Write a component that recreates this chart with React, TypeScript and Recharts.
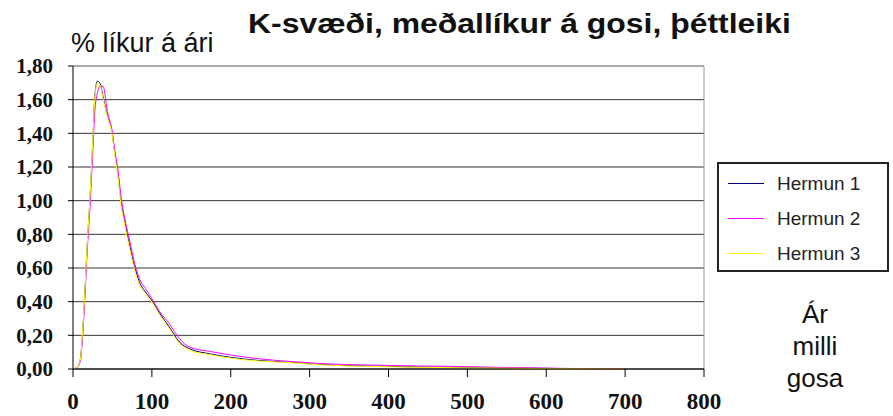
import React from 'react'
import { LineChart, Line, XAxis, YAxis, CartesianGrid, ReferenceLine } from 'recharts'

// ár milli gosa
const years = [0, 5, 9, 12, 15, 18, 22, 25, 28, 31, 34, 38, 44, 49, 53, 57, 61, 65, 72, 78, 84, 93, 101, 110, 122, 135, 148, 174, 199, 237, 275, 309, 351, 393, 436, 478, 520, 560, 600, 650, 700]
const hermun1 = [0, 0.01, 0.05, 0.2, 0.45, 0.73, 1.05, 1.34, 1.64, 1.71, 1.7, 1.62, 1.5, 1.42, 1.28, 1.16, 0.99, 0.89, 0.73, 0.61, 0.52, 0.45, 0.4, 0.33, 0.25, 0.16, 0.12, 0.09, 0.07, 0.05, 0.04, 0.028, 0.02, 0.016, 0.012, 0.01, 0.008, 0.006, 0.004, 0.001, 0]
const hermun2 = [0, 0.01, 0.04, 0.18, 0.42, 0.7, 1.0, 1.28, 1.55, 1.64, 1.68, 1.68, 1.52, 1.43, 1.3, 1.18, 1.02, 0.91, 0.76, 0.63, 0.54, 0.47, 0.41, 0.34, 0.27, 0.18, 0.13, 0.104, 0.084, 0.06, 0.045, 0.034, 0.026, 0.022, 0.018, 0.016, 0.012, 0.008, 0.005, 0.002, 0]
const hermun3 = [0, 0.01, 0.05, 0.21, 0.46, 0.74, 1.06, 1.35, 1.63, 1.7, 1.69, 1.61, 1.49, 1.41, 1.27, 1.14, 0.97, 0.87, 0.71, 0.59, 0.5, 0.44, 0.39, 0.32, 0.24, 0.15, 0.11, 0.085, 0.065, 0.047, 0.038, 0.026, 0.018, 0.014, 0.01, 0.008, 0.006, 0.004, 0.002, 0.001, 0]

const xTicks = [0, 100, 200, 300, 400, 500, 600, 700, 800]
const yTicks = [0, 0.2, 0.4, 0.6, 0.8, 1.0, 1.2, 1.4, 1.6, 1.8]

const series = [
  { key: 'h1', name: 'Hermun 1', color: '#000080' },
  { key: 'h2', name: 'Hermun 2', color: '#ff00ff' },
  { key: 'h3', name: 'Hermun 3', color: '#ffff00' },
]

const data = years.map((x, i) => ({ x, h1: hermun1[i], h2: hermun2[i], h3: hermun3[i] }))

const sans = '"Liberation Sans", Arial, sans-serif'
const serif = '"Liberation Serif", "Times New Roman", serif'

const fmt = (v: number) => v.toFixed(2).replace('.', ',')

function LegendBox() {
  return (
    <div style={{ position: 'absolute', left: 717, top: 162, border: '2px solid #222', width: 172, height: 110, boxSizing: 'border-box', padding: '2px 0 0 9px', background: '#fff' }}>
      {series.map(s => (
        <div key={s.key} style={{ display: 'flex', alignItems: 'center', height: 35 }}>
          <div style={{ width: 36, height: 0, borderTop: `1px solid ${s.color}`, marginRight: 13 }} />
          <span style={{ fontFamily: sans, fontSize: 19, color: '#222' }}>{s.name}</span>
        </div>
      ))}
    </div>
  )
}

export default function App() {
  return (
    <div style={{ position: 'absolute', left: 0, top: 0, width: 893, height: 416, background: '#fff' }}>
      <div style={{ position: 'absolute', left: 248, top: 8, fontFamily: sans, fontWeight: 'bold', fontSize: 28, color: '#111', whiteSpace: 'nowrap', transform: 'scaleX(1.14)', transformOrigin: 'left top' }}>
        K-svæði, meðallíkur á gosi, þéttleiki
      </div>
      <div style={{ position: 'absolute', left: 71, top: 28, fontFamily: sans, fontSize: 27, color: '#111', whiteSpace: 'nowrap' }}>
        % líkur á ári
      </div>
      <div style={{ position: 'absolute', left: 775, top: 298, width: 80, textAlign: 'center', fontFamily: sans, fontSize: 26, lineHeight: '32px', color: '#111' }}>
        Ár<br />milli<br />gosa
      </div>
      <LineChart width={893} height={416} data={data} margin={{ top: 66, right: 189, bottom: 0, left: 0 }}>
        <CartesianGrid horizontal vertical={false} stroke="#333" strokeWidth={1} />
        <ReferenceLine x={800} stroke="#999" />
        <ReferenceLine y={1.8} stroke="#bbb" />
        <XAxis
          dataKey="x"
          type="number"
          domain={[0, 800]}
          ticks={xTicks}
          interval={0}
          height={47}
          tickSize={8}
          tickMargin={16}
          stroke="#000"
          tick={{ fontFamily: serif, fontWeight: 'bold', fontSize: 23, fill: '#111' }}
        />
        <YAxis
          type="number"
          domain={[0, 1.8]}
          ticks={yTicks}
          interval={0}
          width={73}
          tickSize={5}
          tickMargin={15}
          stroke="#000"
          tickFormatter={fmt}
          tick={{ fontFamily: serif, fontWeight: 'bold', fontSize: 21, fill: '#111' }}
        />
        {series.map(s => (
          <Line key={s.key} dataKey={s.key} name={s.name} type="monotone" stroke={s.color} strokeWidth={1} dot={false} isAnimationActive={false} />
        ))}
      </LineChart>
      <LegendBox />
    </div>
  )
}
